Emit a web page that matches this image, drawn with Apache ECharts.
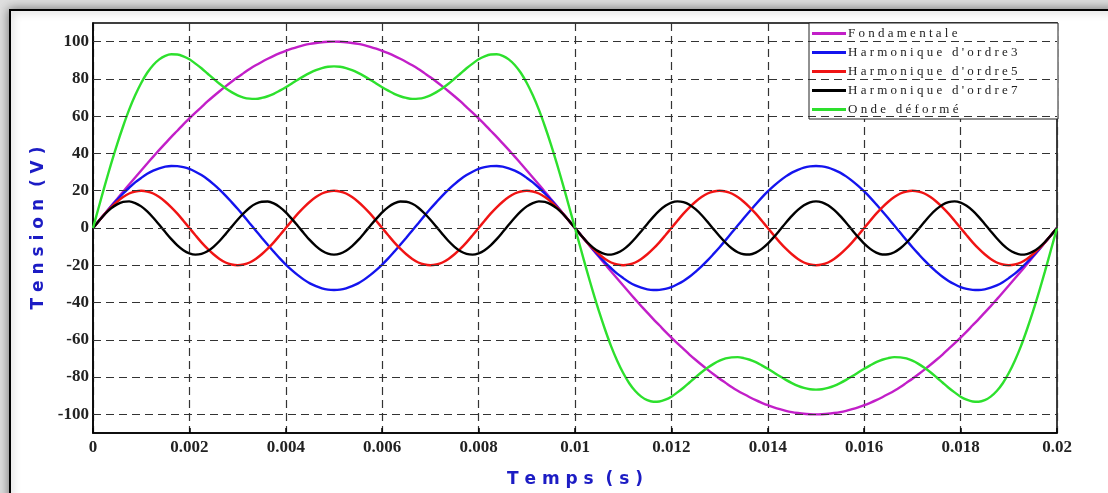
<!DOCTYPE html>
<html>
<head>
<meta charset="utf-8">
<script src="https://cdn.jsdelivr.net/npm/echarts@6/dist/echarts.min.js"></script>
<style>
html,body{margin:0;padding:0;background:#dedede;}
#chart{width:1108px;height:493px;}
</style>
</head>
<body>
<div id="chart"></div>
<script>
// Time samples (s)
const time = [
 0,0.000125,0.00025,0.000375,0.0005,0.000625,0.00075,0.000875,
 0.001,0.001125,0.00125,0.001375,0.0015,0.001625,0.00175,0.001875,
 0.002,0.002125,0.00225,0.002375,0.0025,0.002625,0.00275,0.002875,
 0.003,0.003125,0.00325,0.003375,0.0035,0.003625,0.00375,0.003875,
 0.004,0.004125,0.00425,0.004375,0.0045,0.004625,0.00475,0.004875,
 0.005,0.005125,0.00525,0.005375,0.0055,0.005625,0.00575,0.005875,
 0.006,0.006125,0.00625,0.006375,0.0065,0.006625,0.00675,0.006875,
 0.007,0.007125,0.00725,0.007375,0.0075,0.007625,0.00775,0.007875,
 0.008,0.008125,0.00825,0.008375,0.0085,0.008625,0.00875,0.008875,
 0.009,0.009125,0.00925,0.009375,0.0095,0.009625,0.00975,0.009875,
 0.01,0.010125,0.01025,0.010375,0.0105,0.010625,0.01075,0.010875,
 0.011,0.011125,0.01125,0.011375,0.0115,0.011625,0.01175,0.011875,
 0.012,0.012125,0.01225,0.012375,0.0125,0.012625,0.01275,0.012875,
 0.013,0.013125,0.01325,0.013375,0.0135,0.013625,0.01375,0.013875,
 0.014,0.014125,0.01425,0.014375,0.0145,0.014625,0.01475,0.014875,
 0.015,0.015125,0.01525,0.015375,0.0155,0.015625,0.01575,0.015875,
 0.016,0.016125,0.01625,0.016375,0.0165,0.016625,0.01675,0.016875,
 0.017,0.017125,0.01725,0.017375,0.0175,0.017625,0.01775,0.017875,
 0.018,0.018125,0.01825,0.018375,0.0185,0.018625,0.01875,0.018875,
 0.019,0.019125,0.01925,0.019375,0.0195,0.019625,0.01975,0.019875,
 0.02];

const fondamentale = [
 0,3.9,7.8,11.8,15.6,19.5,23.3,27.1,30.9,34.6,38.3,41.9,45.4,48.9,52.2,55.6,58.8,61.9,64.9,67.9,70.7,73.4,76.0,78.5,80.9,83.1,85.3,87.3,89.1,90.8,92.4,93.8,95.1,96.2,97.2,98.1,98.8,99.3,99.7,99.9,100,
 99.9,99.7,99.3,98.8,98.1,97.2,96.2,95.1,93.8,92.4,90.8,89.1,87.3,85.3,83.1,80.9,78.5,76.0,73.4,70.7,67.9,64.9,61.9,58.8,55.6,52.2,48.9,45.4,41.9,38.3,34.6,30.9,27.1,23.3,19.5,15.6,11.8,7.8,3.9,0,
 -3.9,-7.8,-11.8,-15.6,-19.5,-23.3,-27.1,-30.9,-34.6,-38.3,-41.9,-45.4,-48.9,-52.2,-55.6,-58.8,-61.9,-64.9,-67.9,-70.7,-73.4,-76.0,-78.5,-80.9,-83.1,-85.3,-87.3,-89.1,-90.8,-92.4,-93.8,-95.1,-96.2,-97.2,-98.1,-98.8,-99.3,-99.7,-99.9,-100,
 -99.9,-99.7,-99.3,-98.8,-98.1,-97.2,-96.2,-95.1,-93.8,-92.4,-90.8,-89.1,-87.3,-85.3,-83.1,-80.9,-78.5,-76.0,-73.4,-70.7,-67.9,-64.9,-61.9,-58.8,-55.6,-52.2,-48.9,-45.4,-41.9,-38.3,-34.6,-30.9,-27.1,-23.3,-19.5,-15.6,-11.8,-7.8,-3.9,0];

const harm3 = [
 0,3.9,7.8,11.5,15.1,18.5,21.6,24.5,26.9,29.1,30.8,32.0,32.9,33.3,33.2,32.7,31.7,30.2,28.4,26.2,23.5,20.6,17.4,13.9,10.3,6.5,2.6,-1.3,-5.2,-9.0,-12.7,-16.3,-19.6,-22.6,-25.3,-27.7,-29.7,-31.2,-32.4,-33.1,-33.3,
 -33.1,-32.4,-31.2,-29.7,-27.7,-25.3,-22.6,-19.6,-16.3,-12.7,-9.0,-5.2,-1.3,2.6,6.5,10.3,13.9,17.4,20.6,23.5,26.2,28.4,30.2,31.7,32.7,33.2,33.3,32.9,32.0,30.8,29.1,26.9,24.5,21.6,18.5,15.1,11.5,7.8,3.9,0,
 -3.9,-7.8,-11.5,-15.1,-18.5,-21.6,-24.5,-26.9,-29.1,-30.8,-32.0,-32.9,-33.3,-33.2,-32.7,-31.7,-30.2,-28.4,-26.2,-23.5,-20.6,-17.4,-13.9,-10.3,-6.5,-2.6,1.3,5.2,9.0,12.7,16.3,19.6,22.6,25.3,27.7,29.7,31.2,32.4,33.1,33.3,
 33.1,32.4,31.2,29.7,27.7,25.3,22.6,19.6,16.3,12.7,9.0,5.2,1.3,-2.6,-6.5,-10.3,-13.9,-17.4,-20.6,-23.5,-26.2,-28.4,-30.2,-31.7,-32.7,-33.2,-33.3,-32.9,-32.0,-30.8,-29.1,-26.9,-24.5,-21.6,-18.5,-15.1,-11.5,-7.8,-3.9,0];

const harm5 = [
 0,3.9,7.7,11.1,14.1,16.6,18.5,19.6,20,19.6,18.5,16.6,14.1,11.1,7.7,3.9,0,-3.9,-7.7,-11.1,-14.1,-16.6,-18.5,-19.6,-20,-19.6,-18.5,-16.6,-14.1,-11.1,-7.7,-3.9,0,3.9,7.7,11.1,14.1,16.6,18.5,19.6,20,
 19.6,18.5,16.6,14.1,11.1,7.7,3.9,0,-3.9,-7.7,-11.1,-14.1,-16.6,-18.5,-19.6,-20,-19.6,-18.5,-16.6,-14.1,-11.1,-7.7,-3.9,0,3.9,7.7,11.1,14.1,16.6,18.5,19.6,20,19.6,18.5,16.6,14.1,11.1,7.7,3.9,0,
 -3.9,-7.7,-11.1,-14.1,-16.6,-18.5,-19.6,-20,-19.6,-18.5,-16.6,-14.1,-11.1,-7.7,-3.9,0,3.9,7.7,11.1,14.1,16.6,18.5,19.6,20,19.6,18.5,16.6,14.1,11.1,7.7,3.9,0,-3.9,-7.7,-11.1,-14.1,-16.6,-18.5,-19.6,-20,
 -19.6,-18.5,-16.6,-14.1,-11.1,-7.7,-3.9,0,3.9,7.7,11.1,14.1,16.6,18.5,19.6,20,19.6,18.5,16.6,14.1,11.1,7.7,3.9,0,-3.9,-7.7,-11.1,-14.1,-16.6,-18.5,-19.6,-20,-19.6,-18.5,-16.6,-14.1,-11.1,-7.7,-3.9,0];

const harm7 = [
 0,3.9,7.5,10.5,12.7,14.0,14.3,13.4,11.6,8.9,5.5,1.7,-2.2,-6.0,-9.3,-11.9,-13.6,-14.3,-13.9,-12.5,-10.1,-7.0,-3.3,0.6,4.4,7.9,10.9,13.0,14.1,14.2,13.2,11.2,8.4,4.9,1.1,-2.8,-6.5,-9.7,-12.2,-13.8,-14.3,
 -13.8,-12.2,-9.7,-6.5,-2.8,1.1,4.9,8.4,11.2,13.2,14.2,14.1,13.0,10.9,7.9,4.4,0.6,-3.3,-7.0,-10.1,-12.5,-13.9,-14.3,-13.6,-11.9,-9.3,-6.0,-2.2,1.7,5.5,8.9,11.6,13.4,14.3,14.0,12.7,10.5,7.5,3.9,0,
 -3.9,-7.5,-10.5,-12.7,-14.0,-14.3,-13.4,-11.6,-8.9,-5.5,-1.7,2.2,6.0,9.3,11.9,13.6,14.3,13.9,12.5,10.1,7.0,3.3,-0.6,-4.4,-7.9,-10.9,-13.0,-14.1,-14.2,-13.2,-11.2,-8.4,-4.9,-1.1,2.8,6.5,9.7,12.2,13.8,14.3,
 13.8,12.2,9.7,6.5,2.8,-1.1,-4.9,-8.4,-11.2,-13.2,-14.2,-14.1,-13.0,-10.9,-7.9,-4.4,-0.6,3.3,7.0,10.1,12.5,13.9,14.3,13.6,11.9,9.3,6.0,2.2,-1.7,-5.5,-8.9,-11.6,-13.4,-14.3,-14.0,-12.7,-10.5,-7.5,-3.9,0];

const ondeDeformee = [
 0,11.7,23.3,34.4,44.9,54.6,63.5,71.2,77.8,83.3,87.5,90.5,92.4,93.2,93.1,92.1,90.5,88.2,85.7,82.9,80.1,77.4,75.0,72.9,71.2,70.0,69.4,69.3,69.8,70.7,72.0,73.7,75.5,77.5,79.6,81.5,83.2,84.7,85.8,86.5,86.7,
 86.5,85.8,84.7,83.2,81.5,79.6,77.5,75.5,73.7,72.0,70.7,69.8,69.3,69.4,70.0,71.2,72.9,75.0,77.4,80.1,82.9,85.7,88.2,90.5,92.1,93.1,93.2,92.4,90.5,87.5,83.3,77.8,71.2,63.5,54.6,44.9,34.4,23.3,11.7,0,
 -11.7,-23.3,-34.4,-44.9,-54.6,-63.5,-71.2,-77.8,-83.3,-87.5,-90.5,-92.4,-93.2,-93.1,-92.1,-90.5,-88.2,-85.7,-82.9,-80.1,-77.4,-75.0,-72.9,-71.2,-70.0,-69.4,-69.3,-69.8,-70.7,-72.0,-73.7,-75.5,-77.5,-79.6,-81.5,-83.2,-84.7,-85.8,-86.5,-86.7,
 -86.5,-85.8,-84.7,-83.2,-81.5,-79.6,-77.5,-75.5,-73.7,-72.0,-70.7,-69.8,-69.3,-69.4,-70.0,-71.2,-72.9,-75.0,-77.4,-80.1,-82.9,-85.7,-88.2,-90.5,-92.1,-93.1,-93.2,-92.4,-90.5,-87.5,-83.3,-77.8,-71.2,-63.5,-54.6,-44.9,-34.4,-23.3,-11.7,0];

const seriesNames = ['Fondamentale', "Harmonique d'ordre3", "Harmonique d'ordre5", "Harmonique d'ordre7", 'Onde déformé'];
const seriesColors = ['#c21fc8', '#1414ee', '#f01414', '#000000', '#2de02d'];
const yTickValues = [-100, -80, -60, -40, -20, 0, 20, 40, 60, 80, 100];

const allValues = [fondamentale, harm3, harm5, harm7, ondeDeformee];

const chart = echarts.init(document.getElementById('chart'), null, {renderer: 'canvas'});

const labelFont = {fontFamily: 'Liberation Serif', fontWeight: 'bold', fontSize: 17, color: '#222'};
const nameFont = {fontFamily: 'DejaVu Sans', fontWeight: 'bold', fontSize: 17, color: '#1c1cc4'};

const series = allValues.map((vals, i) => ({
  name: seriesNames[i],
  type: 'line',
  data: time.map((t, j) => [t, vals[j]]),
  smooth: 0.3,
  showSymbol: false,
  symbol: 'none',
  z: 3,
  lineStyle: {color: seriesColors[i], width: 2.4},
  itemStyle: {color: seriesColors[i]}
}));

series.unshift({
  name: 'grid',
  type: 'line',
  data: [],
  z: 1,
  silent: true,
  markLine: {
    silent: true,
    symbol: 'none',
    label: {show: false},
    animation: false,
    lineStyle: {color: '#333', width: 1.2, type: [8, 5]},
    data: yTickValues.map(v => ({yAxis: v}))
  }
});

const option = {
  animation: false,
  backgroundColor: '#dedede',
  graphic: [{
    type: 'rect',
    z: -10,
    shape: {x: 10, y: 10, width: 1200, height: 600},
    style: {fill: '#ffffff', stroke: '#000', lineWidth: 2, shadowBlur: 10, shadowColor: 'rgba(0,0,0,0.45)'}
  }],
  grid: {left: 93, right: 51, top: 23, bottom: 58, show: true, borderColor: '#000', borderWidth: 1.5, backgroundColor: '#fff'},
  legend: {
    data: seriesNames,
    orient: 'vertical',
    right: 50,
    top: 23,
    icon: 'rect',
    itemWidth: 34,
    itemHeight: 3,
    itemGap: 4,
    padding: [3, 4, 2, 3],
    backgroundColor: '#fff',
    borderColor: '#222',
    borderWidth: 1,
    borderRadius: 0,
    formatter: n => n.split('').join(' '),
    textStyle: {fontFamily: 'Liberation Serif', fontSize: 13, color: '#222', lineHeight: 15, width: 206, padding: [0, 0, 0, -3]}
  },
  xAxis: {
    type: 'value',
    min: 0,
    max: 0.02,
    interval: 0.002,
    name: 'T e m p s  ( s )',
    nameLocation: 'middle',
    nameGap: 38,
    nameTextStyle: nameFont,
    axisLine: {show: true, onZero: false, lineStyle: {color: '#000', width: 1.5}},
    axisTick: {show: true, inside: true, length: 5, lineStyle: {color: '#000', width: 1.5}},
    axisLabel: Object.assign({margin: 6, formatter: v => String(+v.toFixed(3))}, labelFont),
    splitLine: {show: true, lineStyle: {color: '#333', width: 1.2, type: [8, 5]}}
  },
  yAxis: {
    type: 'value',
    min: -110,
    max: 110,
    interval: 10,
    name: 'T e n s i o n  ( V )',
    nameLocation: 'middle',
    nameRotate: 90,
    nameGap: 45,
    nameTextStyle: nameFont,
    axisLine: {show: true, onZero: false, lineStyle: {color: '#000', width: 1.5}},
    axisTick: {show: false},
    axisLabel: Object.assign({margin: 4, formatter: v => (yTickValues.indexOf(v) >= 0 ? String(v) : '')}, labelFont),
    splitLine: {show: false}
  },
  series: series
};

chart.setOption(option);
</script>
</body>
</html>
